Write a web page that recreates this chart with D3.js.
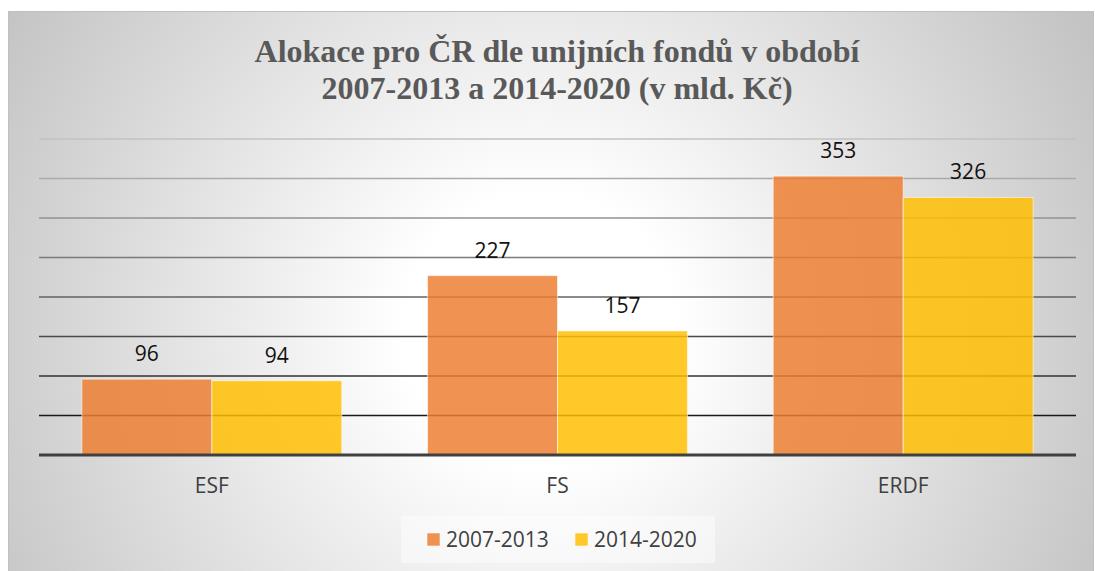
<!DOCTYPE html>
<html>
<head>
<meta charset="utf-8">
<script src="https://cdn.jsdelivr.net/npm/d3@7"></script>
<style>
  html, body { margin: 0; padding: 0; background: #ffffff; }
  svg { display: block; }
</style>
</head>
<body>
<svg id="chart" width="1095" height="571"></svg>
<script>
// ---- data ----
const titleLines = ["Alokace pro ČR dle unijních fondů v období", "2007-2013 a 2014-2020 (v mld. Kč)"];
const categories = ["ESF", "FS", "ERDF"];
const seriesNames = ["2007-2013", "2014-2020"];
const values2007 = [96, 227, 353];
const values2014 = [94, 157, 326];
const gridTicks = [0, 50, 100, 150, 200, 250, 300, 350, 400];
const seriesColors = ["#ED7D31", "#FFC000"];

const seriesValues = [values2007, values2014];
const data = categories.map((c, i) => ({
  cat: c,
  vals: seriesNames.map((s, j) => ({ series: s, idx: j, value: seriesValues[j][i] }))
}));

const W = 1095, H = 571;
const svg = d3.select("#chart");
const defs = svg.append("defs");

// background radial gradient
const rg = defs.append("radialGradient")
  .attr("id", "bg").attr("gradientUnits", "userSpaceOnUse")
  .attr("cx", 540).attr("cy", 330).attr("r", 620);
rg.append("stop").attr("offset", 0).attr("stop-color", "#ffffff");
rg.append("stop").attr("offset", 0.22).attr("stop-color", "#ffffff");
rg.append("stop").attr("offset", 1).attr("stop-color", "#c4c4c4");

svg.append("rect")
  .attr("x", 8.5).attr("y", 11.5).attr("width", 1085).attr("height", 565)
  .attr("fill", "url(#bg)").attr("stroke", "#c0c0c0").attr("stroke-width", 1);

// title
const title = svg.append("text")
  .attr("text-anchor", "middle")
  .attr("font-family", "'Liberation Serif', 'Times New Roman', serif")
  .attr("font-weight", "bold").attr("font-size", 32)
  .attr("fill", "#595959");
titleLines.forEach((t, i) => {
  title.append("tspan").attr("x", 557).attr("y", 62 + i * 36.5).text(t);
});

// scales
const plotLeft = 39, plotRight = 1076;
const y = d3.scaleLinear().domain([0, 400]).range([455, 139]);
const x0 = d3.scaleBand().domain(categories).range([plotLeft, plotRight]).padding(0);
const x1 = d3.scaleBand().domain(seriesNames).range([0, x0.bandwidth()])
  .paddingInner(0).paddingOuter(0.33);

// gridlines (darker toward the bottom)
const gridColor = d3.scaleLinear().domain([400, 50]).range(["#c2c2c2", "#1a1a1a"]);
svg.append("g").selectAll("line")
  .data(gridTicks.filter(d => d > 0))
  .join("line")
  .attr("x1", plotLeft).attr("x2", plotRight)
  .attr("y1", d => y(d)).attr("y2", d => y(d))
  .attr("stroke", d => gridColor(d))
  .attr("stroke-width", 1.6);

// bars
const groups = svg.append("g").selectAll("g")
  .data(data).join("g")
  .attr("transform", d => `translate(${x0(d.cat)},0)`);

groups.selectAll("rect")
  .data(d => d.vals).join("rect")
  .attr("x", d => x1(d.series))
  .attr("y", d => y(d.value))
  .attr("width", x1.bandwidth())
  .attr("height", d => y(0) - y(d.value))
  .attr("fill", d => seriesColors[d.idx])
  .attr("fill-opacity", 0.84)
  .attr("stroke", "#ffffff").attr("stroke-opacity", 0.55).attr("stroke-width", 1);

groups.selectAll("text")
  .data(d => d.vals).join("text")
  .attr("x", d => x1(d.series) + x1.bandwidth() / 2)
  .attr("y", d => y(d.value) - 18)
  .attr("text-anchor", "middle")
  .attr("font-family", "'Open Sans', sans-serif")
  .attr("font-size", 21)
  .attr("fill", "#111111")
  .text(d => d.value);

// baseline axis
svg.append("line")
  .attr("x1", plotLeft).attr("x2", plotRight)
  .attr("y1", y(0)).attr("y2", y(0))
  .attr("stroke", "#404040").attr("stroke-width", 3);

// category axis
const xAxis = svg.append("g")
  .attr("transform", `translate(0,${y(0)})`)
  .call(d3.axisBottom(x0).tickSize(0).tickPadding(23));
xAxis.select(".domain").remove();
xAxis.selectAll("text")
  .attr("font-family", "'Open Sans', sans-serif")
  .attr("font-size", 21)
  .attr("fill", "#404040");

// legend
svg.append("rect")
  .attr("x", 401).attr("y", 516).attr("width", 314).attr("height", 47)
  .attr("fill", "#ffffff").attr("fill-opacity", 0.45);
const legendX = [427, 575];
const lg = svg.append("g").selectAll("g")
  .data(seriesNames).join("g")
  .attr("transform", (d, i) => `translate(${legendX[i]},533)`);
lg.append("rect")
  .attr("width", 13).attr("height", 13)
  .attr("fill", (d, i) => seriesColors[i]).attr("fill-opacity", 0.84)
  .attr("stroke", "#ffffff").attr("stroke-opacity", 0.55);
lg.append("text")
  .attr("x", 19).attr("y", 14)
  .attr("font-family", "'Open Sans', sans-serif")
  .attr("font-size", 21)
  .attr("fill", "#404040")
  .text(d => d);
</script>
</body>
</html>
